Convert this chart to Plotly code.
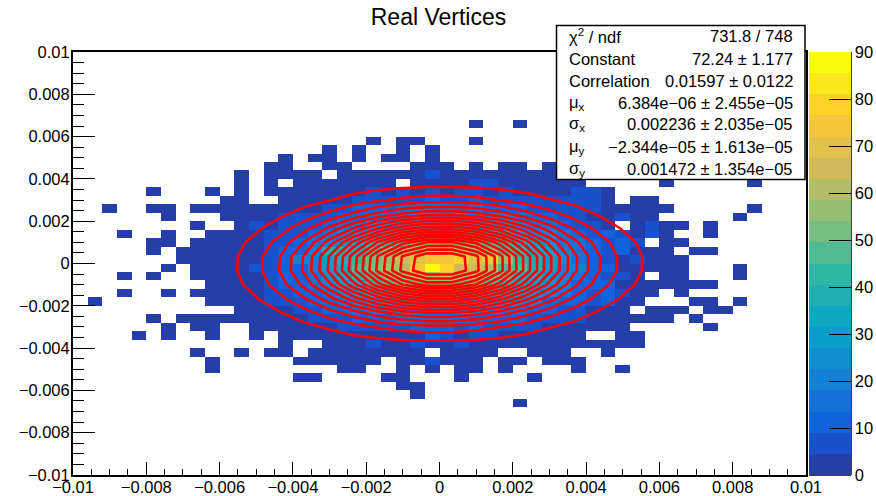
import numpy as np
import plotly.graph_objects as go

# Bin counts, one list per row of the 50x50 histogram, top row first.
# Each list starts at the left-most column; trailing empty bins are left out.
row_08 = [0]*27 + [1,0,0,1]
row_09 = []
row_10 = [0]*20 + [1,0,1,1,0,0,0,1]
row_11 = [0]*17 + [1,0,1,0,0,1,0,1]
row_12 = [0]*14 + [1,0,1,1,0,1,0,1,1,0,1]
row_13 = [0]*13 + [1,2,0,0,1,1,0,0,0,0,1,1,1,0,1,0,1,1,0,1]
row_14 = [0]*11 + [1,0,1,1,2,1,0,2,1,2,1,2,1,5,2,1,2,2,1,2,1,1]
row_15 = [0]*11 + [1,0,1,0,2,2,3,2,2,3,2,0,2,3,3,2,5,6,3,2,3,2,2,1,0,0,0,0,0,1,0,0,0,0,0,1]
row_16 = [0]*5 + [1,0,0,0,1,0,1,0,1,1,1,2,2,2,3,5,3,6,3,8,4,5,5,3,6,3,3,3,4,5,6,2]
row_17 = [0]*10 + [1,1,0,0,1,1,2,3,3,5,6,5,7,8,9,8,8,9,7,7,6,5,5,5,5,6,3,0,1,1]
row_18 = [0,0,1,0,0,1,1,0,1,1,1,2,1,2,3,3,4,5,7,9,10,12,14,14,16,14,13,14,12,11,9,8,7,5,5,5,2,2,1,1,1,0,0,0,0,0,1]
row_19 = [0]*6 + [1,0,0,0,1,2,3,3,5,5,6,8,10,12,16,17,21,23,24,22,23,20,19,18,14,12,10,7,5,4,3,6,2,1,0,0,0,0,0,1]
row_20 = [0]*8 + [1,0,0,2,5,3,7,6,7,11,14,17,23,26,31,32,35,33,34,30,29,24,21,17,14,10,8,7,4,0,3,6,2,1,0,1]
row_21 = [0,0,0,1,0,0,1,0,0,1,1,3,3,5,8,8,10,15,19,25,33,35,41,44,46,47,43,44,38,36,27,22,18,15,11,8,9,5,3,7,1,0,0,1]
row_22 = [0]*5 + [1,1,0,1,1,2,2,4,5,5,10,14,19,25,35,41,44,49,55,58,56,53,50,48,41,37,30,24,17,14,9,8,10,5,0,1,1]
row_23 = [0]*5 + [1,0,1,2,2,2,4,3,7,9,13,19,36,40,40,46,54,60,62,68,64,65,58,56,48,41,33,27,22,14,12,7,9,4,2,1,0,1,1]
row_24 = [0]*7 + [1,2,2,3,3,4,7,12,18,22,28,37,43,50,55,66,70,75,76,78,68,74,54,43,38,27,24,15,13,6,4,7,2,1,2]
row_25 = [0]*6 + [1,0,1,2,1,3,8,6,11,13,19,27,35,45,52,60,62,72,88,80,63,66,60,49,46,36,30,21,18,11,9,4,3,3,2,1,0,0,0,1]
row_26 = [0,0,0,1,0,1,0,0,1,2,2,3,2,8,9,12,17,26,32,42,47,56,58,66,62,70,62,60,52,50,39,35,25,20,15,11,7,8,3,0,2,1,0,0,0,1]
row_27 = [0]*9 + [1,2,4,4,7,9,11,15,21,28,33,41,47,51,53,57,58,52,54,46,42,34,29,23,19,12,11,10,3,2,2,1,1,1,1]
row_28 = [0,0,0,1,0,0,1,0,1,2,2,3,4,5,8,10,12,17,20,28,33,38,40,45,47,44,42,41,39,33,28,24,18,14,11,7,9,5,3,1,0,1]
row_29 = [0,1,0,0,0,0,0,0,0,1,2,3,3,6,5,7,9,12,16,20,25,27,30,34,33,35,31,32,28,23,20,18,13,10,9,6,10,3,1,0,0,0,1,1,0,1]
row_30 = [0]*11 + [2,2,4,3,5,6,9,10,14,16,19,21,24,23,22,24,21,18,17,15,11,10,8,5,3,3,2,0,1,2,1,0,1,1]
row_31 = [0]*5 + [1,0,1,1,1,1,2,2,2,2,3,5,6,7,9,11,12,14,15,16,14,15,13,12,10,9,8,6,5,5,3,2,2,1,2,1,0,1]
row_32 = [0]*6 + [1,0,1,1,0,0,1,2,2,2,3,3,5,5,6,8,7,9,10,9,8,10,8,7,5,5,4,3,3,2,2,1,0,0,0,0,0,1]
row_33 = [0]*4 + [1,0,1,0,0,1,0,0,1,0,1,1,1,2,2,3,3,3,4,3,9,7,4,5,6,3,3,2,2,2,1,0,0,1,1]
row_34 = [0]*14 + [1,0,0,1,2,2,6,3,3,5,3,3,6,3,2,2,2,1,1,2,1,1,1,1,1]
row_35 = [0]*8 + [1,0,0,1,0,1,1,0,1,1,2,1,2,2,1,2,0,1,2,1,2,0,0,1,1,1,0,0,1]
row_36 = [0]*9 + [1,0,0,0,0,0,1,1,1,1,1,1,0,1,1,6,1,1,1,0,1,1,0,1,1,1]
row_37 = [0]*9 + [1,0,0,0,0,0,0,0,0,1,1,0,0,1,0,1,0,1,1,0,1,0,0,0,0,1,0,0,1]
row_38 = [0]*15 + [1,1,0,0,0,0,1,1,0,0,0,1,0,0,0,0,1]
row_39 = [0]*22 + [1,1]
row_40 = [0]*23 + [1]
row_41 = [0]*30 + [1]

# Fit parameters printed in the stats box; the red contours are this fitted surface.
fit_constant = 72.24
fit_correlation = 0.01597
fit_mean_x = 6.384e-06
fit_sigma_x = 0.002236
fit_mean_y = -2.344e-05
fit_sigma_y = 0.001472

title_text = "Real Vertices"
stat_labels = ["χ<sup>2</sup> / ndf", "Constant", "Correlation", "μ<sub>x</sub>", "σ<sub>x</sub>", "μ<sub>y</sub>", "σ<sub>y</sub>"]
stat_values = ["731.8 / 748", "72.24 ± 1.177", "0.01597 ± 0.0122", "6.384e−06 ± 2.455e−05",
               "0.002236 ± 2.035e−05", "−2.344e−05 ± 1.613e−05", "0.001472 ± 1.354e−05"]

# ---- layout constants (pixels of the 876x496 page)
W, H = 876, 496
L, R, T, B = 73, 806, 52, 475
px = lambda v: (v - L) / (R - L)
py = lambda v: (B - v) / (B - T)
FONT = "Liberation Sans"

# ---- histogram grid
N = 50
LO, HI = -0.01, 0.01
edges = np.linspace(LO, HI, N + 1)
centers = (edges[:-1] + edges[1:]) / 2
top_down = [[]] * 8 + [row_08, row_09, row_10, row_11, row_12, row_13, row_14, row_15, row_16, row_17,
                       row_18, row_19, row_20, row_21, row_22, row_23, row_24, row_25, row_26, row_27,
                       row_28, row_29, row_30, row_31, row_32, row_33, row_34, row_35, row_36, row_37,
                       row_38, row_39, row_40, row_41]
top_down += [[]] * (N - len(top_down))
grid = []
for row in reversed(top_down):
    assert len(row) <= N
    full = list(row) + [0] * (N - len(row))
    grid.append([v if v > 0 else None for v in full])

# ---- ROOT kBird palette, 20 flat bands from 0 to 90
stops = [0, .125, .25, .375, .5, .625, .75, .875, 1]
bird_r = [.2082, .0592, .0780, .0232, .1802, .5301, .8186, .9956, .9764]
bird_g = [.1664, .3599, .5041, .6419, .7178, .7492, .7328, .7862, .9832]
bird_b = [.5293, .8684, .8385, .7914, .6425, .4662, .3499, .1968, .0539]
BANDS = 20
scale = []
for i in range(BANDS):
    t = (i + 1) / BANDS
    c = "rgb(%d,%d,%d)" % tuple(round(255 * np.interp(t, stops, s)) for s in (bird_r, bird_g, bird_b))
    scale += [[i / BANDS, c], [(i + 1) / BANDS, c]]

# ---- fitted surface sampled as ROOT does it: 30 bin centres per axis
fx_edges = np.linspace(LO, HI, 31)
fx = (fx_edges[:-1] + fx_edges[1:]) / 2
X, Y = np.meshgrid(fx, fx)
u = (X - fit_mean_x) / fit_sigma_x
v = (Y - fit_mean_y) / fit_sigma_y
rho = fit_correlation
Z = fit_constant * np.exp(-(u*u - 2*rho*u*v + v*v) / (2 * (1 - rho*rho)))
step = Z.max() / BANDS

fig = go.Figure()
fig.add_trace(go.Heatmap(
    x=centers, y=centers, z=grid, zmin=0, zmax=90, colorscale=scale, hoverongaps=False,
    colorbar=dict(
        x=px(809), xanchor="left", xpad=0, y=0.5, yanchor="middle", len=1, lenmode="fraction", ypad=0,
        thickness=42, thicknessmode="pixels", outlinewidth=0,
        tickmode="linear", tick0=0, dtick=10, ticks="inside", ticklen=22, tickwidth=1, tickcolor="black",
        tickfont=dict(family=FONT, size=16.5, color="black"),
    ),
))
fig.add_trace(go.Contour(
    x=fx, y=fx, z=Z, showscale=False, hoverinfo="skip",
    contours=dict(coloring="none", start=step, end=step * (BANDS - 1) + step / 10, size=step),
    line=dict(color="#ff0000", width=2.6, smoothing=0),
))

axis_common = dict(
    range=[LO, HI], tickmode="linear", tick0=LO, dtick=0.002, showgrid=False, zeroline=False,
    showline=True, linecolor="black", linewidth=2, mirror=True, ticks="inside", tickcolor="black", tickwidth=1,
    tickfont=dict(family=FONT, size=16.5, color="black"), exponentformat="none",
)
fig.update_xaxes(**axis_common, ticklen=13, ticklabelstandoff=-4,
                 minor=dict(ticks="inside", ticklen=6, tick0=LO, dtick=0.0005, tickcolor="black", tickwidth=1, showgrid=False))
fig.update_yaxes(**axis_common, ticklen=22, ticklabelstandoff=-2,
                 minor=dict(ticks="inside", ticklen=11, tick0=LO, dtick=0.0005, tickcolor="black", tickwidth=1, showgrid=False))

shapes = [
    dict(type="rect", xref="paper", yref="paper", x0=px(556.5), x1=px(805), y0=py(179.5), y1=py(25.5),
         fillcolor="white", line=dict(color="black", width=1.5), layer="above"),
    dict(type="line", xref="paper", yref="paper", x0=px(851), x1=px(851), y0=0, y1=1, line=dict(color="black", width=1.5)),
    dict(type="line", xref="paper", yref="paper", x0=px(809), x1=px(851), y0=0, y1=0, line=dict(color="black", width=1.5)),
]
row_y = [36, 59, 80.5, 102.5, 124.5, 147, 169]
notes = []
for lab, val, yy in zip(stat_labels, stat_values, row_y):
    notes.append(dict(text=lab, xref="paper", yref="paper", x=px(566.5), y=py(yy), xanchor="left", yanchor="middle",
                      showarrow=False, align="left", font=dict(family=FONT, size=16.5, color="black")))
    notes.append(dict(text=val, xref="paper", yref="paper", x=px(794.5), y=py(yy), xanchor="right", yanchor="middle",
                      showarrow=False, align="right", font=dict(family=FONT, size=16.5, color="black")))

fig.update_layout(
    width=W, height=H, autosize=False, margin=dict(l=L, r=W - R, t=T, b=H - B, autoexpand=False),
    paper_bgcolor="white", plot_bgcolor="white", showlegend=False,
    title=dict(text=title_text, x=(438.5) / W, xanchor="center", y=1 - 17 / H, yanchor="middle",
               font=dict(family=FONT, size=23, color="black")),
    shapes=shapes, annotations=notes,
)
fig.write_html("out.html", config={"displayModeBar": False},
               post_script="document.body.style.margin='0';document.body.style.overflow='hidden';")
